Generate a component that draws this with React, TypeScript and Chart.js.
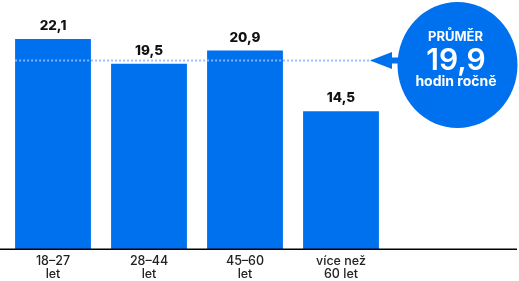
import React, { useEffect, useRef } from "react";
import { Chart, registerables } from "chart.js";

Chart.register(...registerables);

const categories: string[][] = [["18–27", "let"], ["28–44", "let"], ["45–60", "let"], ["více než", "60 let"]];
const values: number[] = [22.1, 19.5, 20.9, 14.5];
const averageValue = 19.9;
const averageTitle = "PRŮMĚR";
const averageUnit = "hodin ročně";

const BLUE = "#0071EE";
const FONT = "Inter, 'Noto Sans', sans-serif";
const fmt = (v: number) => v.toFixed(1).replace(".", ",");

const overlayPlugin = {
  id: "overlay",
  afterDatasetsDraw(chart: any) {
    const ctx = chart.ctx;
    const area = chart.chartArea;
    const y = chart.scales.y;
    const meta = chart.getDatasetMeta(0);
    ctx.save();
    // value labels
    ctx.fillStyle = "#111";
    ctx.font = `800 13.5px ${FONT}`;
    ctx.textAlign = "center";
    ctx.textBaseline = "middle";
    meta.data.forEach((bar: any, i: number) => {
      ctx.fillText(fmt(values[i]), bar.x, bar.y - 13);
    });
    // axis line
    ctx.strokeStyle = "#000";
    ctx.lineWidth = 1.5;
    ctx.beginPath();
    ctx.moveTo(0, area.bottom + 0.25);
    ctx.lineTo(517, area.bottom + 0.25);
    ctx.stroke();
    // average line
    const ay = Math.round(y.getPixelForValue(averageValue)) + 0.5;
    const startX = meta.data[0].x - meta.data[0].width / 2;
    ctx.strokeStyle = "rgba(140,185,250,0.9)";
    ctx.lineWidth = 2;
    ctx.setLineDash([2, 2]);
    ctx.beginPath();
    ctx.moveTo(startX, ay);
    ctx.lineTo(372, ay);
    ctx.stroke();
    ctx.setLineDash([]);
    // arrow
    ctx.fillStyle = BLUE;
    ctx.beginPath();
    ctx.moveTo(370, ay);
    ctx.lineTo(392, ay - 8.5);
    ctx.lineTo(392, ay + 8.5);
    ctx.closePath();
    ctx.fill();
    ctx.fillRect(391, ay - 3, 10, 6);
    // circle
    const cx = 457.5, cy = 65;
    ctx.beginPath();
    ctx.ellipse(cx, cy, 60, 63, 0, 0, Math.PI * 2);
    ctx.fill();
    ctx.fillStyle = "#fff";
    ctx.textAlign = "center";
    ctx.textBaseline = "middle";
    ctx.font = `700 13px ${FONT}`;
    ctx.fillText(averageTitle, 455.5, 37);
    ctx.font = `600 30px ${FONT}`;
    ctx.fillText(fmt(averageValue), 456, 61);
    ctx.font = `700 14px ${FONT}`;
    ctx.fillText(averageUnit, 456, 82);
    ctx.restore();
  },
};

export default function App() {
  const ref = useRef<HTMLCanvasElement>(null);
  useEffect(() => {
    document.body.style.margin = "0";
    const chart = new Chart(ref.current!, {
      type: "bar",
      data: {
        labels: categories,
        datasets: [
          {
            data: values,
            backgroundColor: BLUE,
            categoryPercentage: 1,
            barPercentage: 0.79,
          },
        ],
      },
      options: {
        animation: false,
        responsive: false,
        maintainAspectRatio: false,
        layout: { padding: { left: 5, right: 130, top: 2, bottom: 0 } },
        plugins: { legend: { display: false }, tooltip: { enabled: false } },
        scales: {
          x: {
            grid: { display: false, drawTicks: false },
            border: { display: false },
            ticks: {
              color: "#222",
              padding: 6,
              font: { family: FONT, size: 12.5, weight: 500, lineHeight: 1.05 },
              maxRotation: 0,
              autoSkip: false,
            },
            afterFit: (s: any) => {
              s.height = 32;
            },
          },
          y: { display: false, min: 0, max: 26 },
        },
      },
      plugins: [overlayPlugin],
    });
    return () => chart.destroy();
  }, []);
  return (
    <div style={{ width: 519, height: 281 }}>
      <canvas ref={ref} width={519} height={281} style={{ display: "block" }} />
    </div>
  );
}
